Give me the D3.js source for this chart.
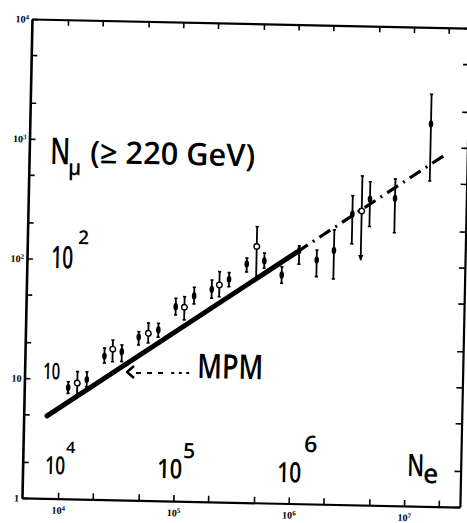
<!DOCTYPE html>
<html>
<head>
<meta charset="utf-8">
<script src="https://cdn.jsdelivr.net/npm/d3@7"></script>
<style>
  body { margin: 0; background: #fff; }
  svg { display: block; }
</style>
</head>
<body>
<script>
// N_mu(>220 GeV) against shower size Ne

const ne    = [1.17e4, 1.40e4, 1.69e4, 2.38e4, 2.80e4, 3.36e4, 4.68e4, 5.66e4, 6.90e4,
               9.67e4, 1.15e5, 1.39e5, 1.97e5, 2.29e5, 2.77e5, 3.92e5, 4.75e5, 5.56e5,
               7.91e5, 1.11e6, 1.58e6, 2.22e6, 3.16e6, 3.80e6, 4.46e6, 7.35e6, 1.46e7]
const nmu   = [8.5, 9.3, 10.0, 15.8, 18.1, 17.3, 23.1, 24.9, 26.7,
               42.0, 41.7, 52.0, 59.6, 64.9, 72.7, 98.3, 138, 105,
               80.7, 130, 109, 132, 268, 285, 360, 369, 1561]
const nmuLo = [7.6, 7.4, 8.7, 13.8, 14.2, 14.3, 19.8, 20.7, 23.2,
               35.8, 32.7, 44.6, 50.1, 51.8, 63.1, 84.3, 72.5, 91.1,
               68.8, 100, 79.2, 76.3, 151, 111, 212, 190, 522]
const nmuHi = [9.5, 11.6, 11.6, 18.4, 21.6, 19.7, 25.6, 30.4, 30.3,
               49.4, 51.1, 61.5, 71.2, 83.8, 82.6, 110, 202, 122,
               94.6, 142, 132, 196, 381, 559, 502, 535, 2762]
const kind  = ["f", "o", "f", "f", "o", "f", "f", "o", "f",
               "f", "o", "f", "f", "o", "f", "f", "o", "f",
               "f", "f", "f", "f", "f", "oa", "f", "f", "f"]

// MPM model line: solid part, then dash-dot extrapolation
const mpmNe   = [7.76e3, 1.06e6]
const mpmNmu  = [4.89, 126]
const extNe   = [1.06e6, 2.07e7]
const extNmu  = [126, 899]

// ticks
const xTicks = [1e4, 2e4, 5e4, 1e5, 2e5, 5e5, 1e6, 2e6, 5e6, 1e7, 2e7]
const yTicks = [1, 2, 5, 10, 20, 50, 100, 200, 500, 1000, 2000, 5000, 10000]
const xLabels = {1e4: ["10", "4"], 1e5: ["10", "5"], 1e6: ["10", "6"], 1e7: ["10", "7"]}
const yLabels = {1: ["1", ""], 10: ["10", ""], 100: ["10", "2"], 1000: ["10", "3"], 10000: ["10", "4"]}

const width = 467, height = 523
const W = 438, H = 479
const origin = [32, 19]
const angle = 1.2   // the scan is a little skewed

const svg = d3.select("body").append("svg")
    .attr("width", width)
    .attr("height", height)

svg.append("rect").attr("width", width).attr("height", height).attr("fill", "#fff")

const g = svg.append("g")
    .attr("transform", `translate(${origin[0]},${origin[1]}) rotate(${angle})`)

// screen point -> local (unrotated) frame point
function toLocal(px, py) {
    let a = angle * Math.PI / 180
    let dx = px - origin[0], dy = py - origin[1]
    return [dx * Math.cos(a) + dy * Math.sin(a), -dx * Math.sin(a) + dy * Math.cos(a)]
}

const x = d3.scaleLog().domain([4870, 3.05e7]).range([0, W])
const y = d3.scaleLog().domain([1, 1e4]).range([H, 0])

const tickFont = "Liberation Serif"

function supLabel(sel, labels) {
    sel.selectAll(".tick text").each(function(d) {
        let t = d3.select(this)
        let lab = labels[d]
        t.text(null)
        if (!lab) return
        t.append("tspan").text(lab[0])
        if (lab[1]) t.append("tspan").attr("dy", "-0.45em").attr("font-size", 7).text(lab[1])
    })
}

const axisStyle = sel => {
    sel.select(".domain").attr("stroke", "#000").attr("stroke-width", 2.2)
    sel.selectAll(".tick line").attr("stroke", "#000").attr("stroke-width", 1.6)
    sel.selectAll(".tick text").attr("fill", "#000")
        .attr("font-family", tickFont).attr("font-size", 10).attr("font-weight", "bold")
}

g.append("g")
    .attr("transform", `translate(0,${H})`)
    .call(d3.axisBottom(x).tickValues(xTicks).tickSizeInner(-6).tickSizeOuter(0).tickPadding(8))
    .call(axisStyle)
    .call(s => supLabel(s, xLabels))

g.append("g")
    .call(d3.axisLeft(y).tickValues(yTicks).tickSizeInner(-6).tickSizeOuter(0).tickPadding(3))
    .call(axisStyle)
    .call(s => s.select(".domain").attr("stroke-width", 2.6))
    .call(s => supLabel(s, yLabels))

g.append("g")
    .call(d3.axisTop(x).tickValues(xTicks).tickSizeInner(-6).tickSizeOuter(0).tickFormat(""))
    .call(axisStyle)

g.append("g")
    .attr("transform", `translate(${W},0)`)
    .call(d3.axisRight(y).tickValues(yTicks).tickSizeInner(-6).tickSizeOuter(0).tickFormat(""))
    .call(axisStyle)

// model line
const line = d3.line().x(d => x(d[0])).y(d => y(d[1]))

g.append("path")
    .datum(d3.zip(mpmNe, mpmNmu))
    .attr("d", line)
    .attr("fill", "none").attr("stroke", "#000")
    .attr("stroke-width", 5).attr("stroke-linecap", "round")

g.append("path")
    .datum(d3.zip(extNe, extNmu))
    .attr("d", line)
    .attr("fill", "none").attr("stroke", "#000")
    .attr("stroke-width", 3.2)
    .attr("stroke-dasharray", "13,6,2,6")

// error bars and markers
const pts = ne.map((v, i) => ({ne: v, nmu: nmu[i], lo: nmuLo[i], hi: nmuHi[i], kind: kind[i]}))

const pg = g.append("g").selectAll("g").data(pts).join("g")
    .attr("transform", d => `translate(${x(d.ne)},0)`)

pg.append("line")
    .attr("y1", d => y(d.lo)).attr("y2", d => y(d.hi))
    .attr("stroke", "#000").attr("stroke-width", 1.8)

pg.append("line")
    .attr("x1", -1.6).attr("x2", 1.6)
    .attr("y1", d => y(d.hi)).attr("y2", d => y(d.hi))
    .attr("stroke", "#000").attr("stroke-width", 1.6)

pg.filter(d => d.kind != "oa").append("line")
    .attr("x1", -1.6).attr("x2", 1.6)
    .attr("y1", d => y(d.lo)).attr("y2", d => y(d.lo))
    .attr("stroke", "#000").attr("stroke-width", 1.6)

pg.filter(d => d.kind == "oa").append("path")
    .attr("d", d => `M-2.6,${y(d.lo) - 5}L2.6,${y(d.lo) - 5}L0,${y(d.lo) + 1}Z`)
    .attr("fill", "#000")

pg.filter(d => d.kind == "f").append("ellipse")
    .attr("cy", d => y(d.nmu))
    .attr("rx", 2.3).attr("ry", 3.6)
    .attr("fill", "#000")

pg.filter(d => d.kind != "f").append("circle")
    .attr("cy", d => y(d.nmu))
    .attr("r", 2.8)
    .attr("fill", "#fff").attr("stroke", "#000").attr("stroke-width", 1.4)

// handwritten annotations (positions given in screen pixels)
const hand = "Open Sans"

function note(px, py, txt, size, len) {
    let p = toLocal(px, py)
    let t = g.append("text")
        .attr("x", p[0]).attr("y", p[1])
        .attr("font-family", hand).attr("font-size", size).attr("font-weight", 600)
        .attr("fill", "#000")
        .text(txt)
    if (len) t.attr("textLength", len).attr("lengthAdjust", "spacingAndGlyphs")
    return t
}

note(50, 164, "N", 37, 20)
note(68, 175, "μ", 22, 13)
note(90, 163, "(≥ 220 GeV)", 31, 165)

note(51, 268, "10", 31, 22)
note(78, 244, "2", 19)
note(43, 379, "10", 23, 17)
note(45, 474, "10", 25, 20)
note(66, 453, "4", 16)
note(157, 478, "10", 27, 25)
note(183, 458, "5", 21)
note(277, 482, "10", 28, 24)
note(304, 452, "6", 23)
note(407, 476, "N", 31, 17)
note(423, 483, "e", 27, 15)
note(197, 378, "MPM", 34, 66)

// arrow pointing at the model line
const a0 = toLocal(134, 366), a1 = toLocal(127, 372), a2 = toLocal(134, 378)
g.append("path")
    .attr("d", `M${a0}L${a1}L${a2}`)
    .attr("fill", "none").attr("stroke", "#000").attr("stroke-width", 2.4)
    .attr("stroke-linejoin", "round")
const d0 = toLocal(136, 373), d1 = toLocal(168, 373)
g.append("line")
    .attr("x1", d0[0]).attr("y1", d0[1]).attr("x2", d1[0]).attr("y2", d1[1])
    .attr("stroke", "#000").attr("stroke-width", 2).attr("stroke-dasharray", "5,6")
const e0 = toLocal(172, 373), e1 = toLocal(194, 373)
g.append("line")
    .attr("x1", e0[0]).attr("y1", e0[1]).attr("x2", e1[0]).attr("y2", e1[1])
    .attr("stroke", "#000").attr("stroke-width", 2).attr("stroke-dasharray", "1.5,6")
    .attr("stroke-linecap", "round")
</script>
</body>
</html>
